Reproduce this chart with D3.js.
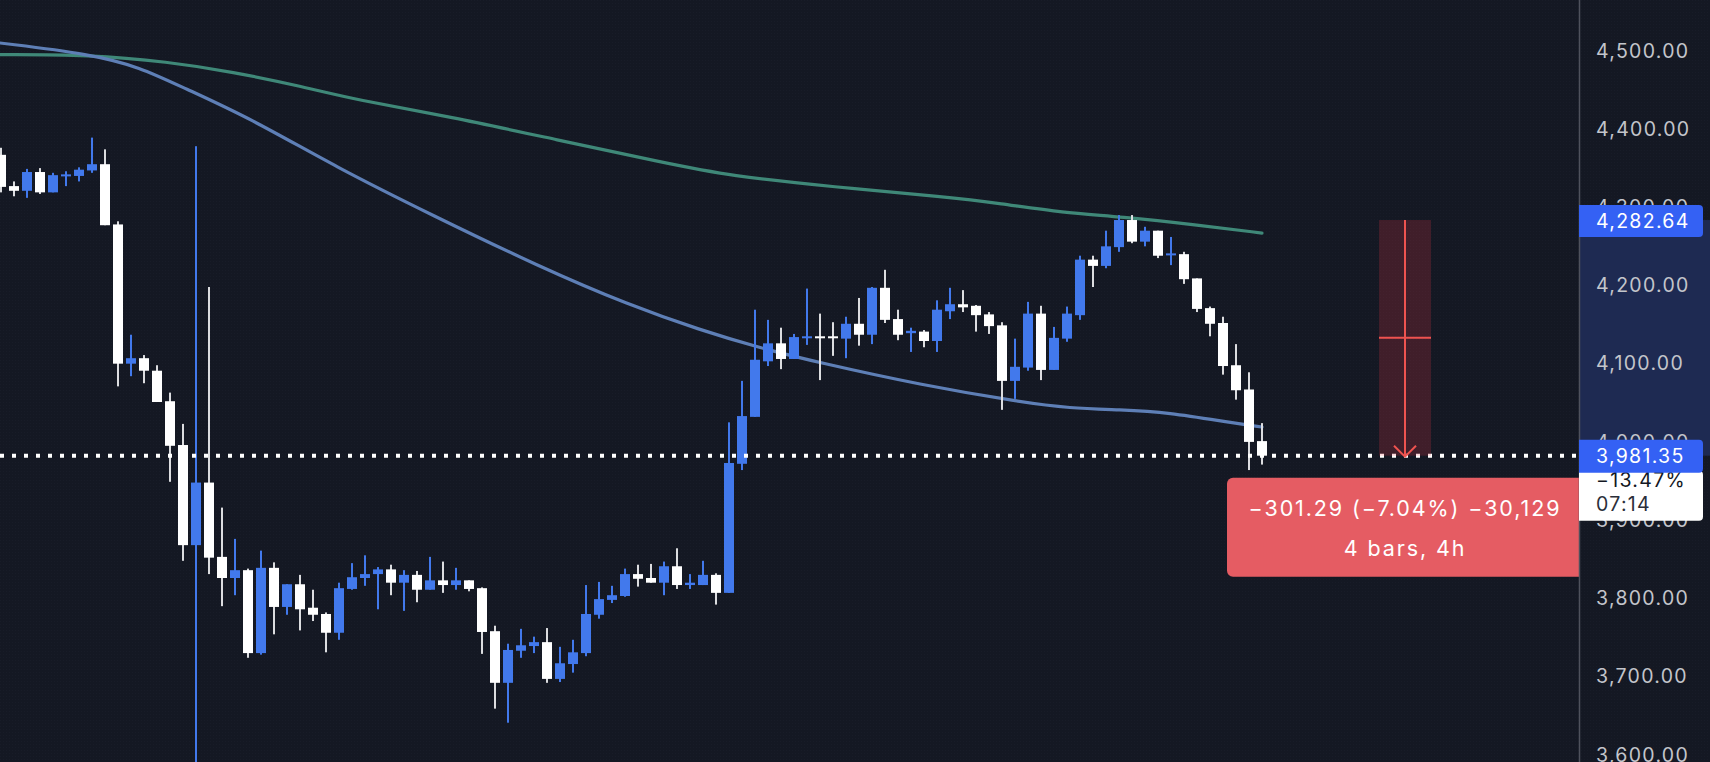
<!DOCTYPE html>
<html><head><meta charset="utf-8">
<script src="https://cdn.jsdelivr.net/npm/d3@7"></script>
<style>
html,body{margin:0;padding:0;background:#141823;overflow:hidden}
svg{display:block}
</style></head><body>
<svg id="chart" width="1710" height="762"></svg>
<script>
// ---- Data (4h candles) ----
const opens  = [4366,4326,4320,4344,4318,4339,4339,4346,4354,4277,4099,4106,4090,4051,3995,3867,3947,3852,3825,3835,3729,3838,3788,3817,3787,3779,3755,3811,3825,3830,3836,3819,3829,3810,3822,3816,3822,3812,3757,3691,3732,3738,3743,3696,3715,3729,3778,3797,3802,3830,3825,3819,3840,3816,3816,3829,3806,3971,4031,4102,4125,4105,4132,4134,4134,4131,4150,4136,4196,4156,4138,4140,4128,4166,4175,4173,4162,4148,4077,4094,4163,4091,4131,4161,4232,4224,4248,4282.64,4255,4269,4238,4239,4208,4170,4151,4097,4066,4000];
const highs  = [4375,4332,4348,4349,4343,4345,4350,4388,4373,4281,4136,4110,4097,4062,4022,4377,4197,3915,3875,3837,3860,3845,3817,3829,3810,3781,3819,3844,3854,3839,3842,3835,3834,3852,3846,3838,3822,3813,3764,3741,3760,3750,3761,3737,3746,3816,3820,3815,3837,3842,3843,3846,3863,3830,3847,3831,4024,4077,4168,4155,4145,4137,4195,4163,4152,4159,4183,4197,4219,4168,4145,4142,4180,4196,4193,4174,4165,4152,4131,4178,4173,4146,4172,4237,4237,4269,4289,4289,4274,4269,4261,4242,4208,4172,4159,4124,4088,4023];
const lows   = [4318,4313,4311,4316,4318,4326,4332,4343,4276,4070,4083,4074,4050,3948,3847,3540,3830,3789,3803,3723,3727,3753,3778,3758,3770,3730,3746,3810,3815,3785,3803,3783,3794,3810,3806,3810,3808,3728,3658,3640,3723,3729,3691,3692,3704,3725,3773,3793,3801,3814,3819,3803,3811,3811,3816,3791,3806,3963,4031,4096,4092,4105,4123,4078,4109,4106,4122,4124,4151,4129,4114,4120,4114,4156,4165,4140,4137,4040,4054,4090,4078,4091,4127,4155,4197,4221,4242,4253,4249,4234,4225,4201,4165,4134,4085,4053,3963,3970];
const closes = [4325,4320,4344,4318,4340,4341,4347,4354,4276,4099,4106,4090,4050,3994,3867,3947,3851,3825,3835,3729,3838,3788,3817,3785,3778,3755,3812,3826,3830,3836,3819,3829,3810,3822,3816,3822,3811,3756,3691,3733,3739,3743,3696,3716,3730,3779,3798,3803,3830,3824,3819,3840,3816,3819,3829,3806,3972,4032,4104,4125,4105,4133,4134,4132,4132,4150,4136,4196,4155,4136,4141,4128,4168,4175,4171,4161,4147,4077,4095,4163,4091,4132,4163,4232,4224,4249,4282.64,4255,4269,4237,4240,4207,4169,4150,4096,4065,3999,3981.35];

// moving averages, sampled at bar indices
const fastMaIdx = [-0.1,6.85,10.7,14,19.15,25.8,33.15,41.4,48.3,53.8,58.4,63,70.7,78.4,82.2,86.1,89.7,94.8,97];
const fastMaVal = [4509,4495,4478,4452,4413,4350,4289,4223,4174,4142,4119,4100,4072,4050,4042,4040,4037,4023,4018];
const slowMaIdx = [-0.1,6.85,12.8,17.85,23,27.4,34.5,42.8,51,56.1,64,72.8,76.8,81.7,86.1,92.2,97];
const slowMaVal = [4494,4494,4485,4472,4454,4436,4415,4385,4356,4339,4325,4312,4304,4292,4287,4276,4266];

const yTicks = [3600,3700,3800,3900,4000,4100,4200,4300,4400,4500];
const lastPrice = 3981.35;
const measureStart = 4282.64;
const measureBars = [106, 110];
const measureLines = ["\u2212301.29 (\u22127.04%) \u221230,129", "4 bars, 4h"];
const lastChange = "\u221213.47%";
const countdown = "07:14";

// ---- Drawing ----
const W = 1710, H = 762, plotRight = 1579;
const FONT = "Inter, 'Noto Sans', 'DejaVu Sans', sans-serif";
const UP = "#4279ec", DOWN = "#ffffff", DOWN_WICK = "#dcdde0";
const AXIS_FS = 19.5, AXIS_LS = 1.3;
const svg = d3.select("#chart");
const x = d3.scaleLinear().domain([0, 97]).range([1, 1262]);
const y = d3.scaleLinear().domain([3600, 4500]).range([754, 50]);

svg.append("rect").attr("width", W).attr("height", H).attr("fill", "#141823");
const defs = svg.append("defs");
const pat = defs.append("pattern").attr("id", "dots").attr("width", 3).attr("height", 3).attr("patternUnits", "userSpaceOnUse");
pat.append("rect").attr("width", 1).attr("height", 1).attr("fill", "#181c28");
svg.append("rect").attr("width", W).attr("height", H).attr("fill", "url(#dots)");
defs.append("clipPath").attr("id", "plotclip").append("rect").attr("width", plotRight).attr("height", H);

const plot = svg.append("g").attr("clip-path", "url(#plotclip)");

// moving averages
const line = d3.line().x(d => x(d[0])).y(d => y(d[1])).curve(d3.curveBasis);
plot.append("path").datum(slowMaIdx.map((d, i) => [d, slowMaVal[i]]))
  .attr("d", line).attr("fill", "none").attr("stroke", "#3f8878").attr("stroke-width", 3.2).attr("stroke-linecap", "round");
plot.append("path").datum(fastMaIdx.map((d, i) => [d, fastMaVal[i]]))
  .attr("d", line).attr("fill", "none").attr("stroke", "#5e7fb6").attr("stroke-width", 3.2).attr("stroke-linecap", "round");

// candles
const candles = opens.map((o, i) => ({ i, o, h: highs[i], l: lows[i], c: closes[i] }));
const cg = plot.append("g");
cg.selectAll("rect.wick").data(candles).join("rect").attr("class", "wick")
  .attr("x", d => x(d.i) - 1).attr("width", 2)
  .attr("y", d => y(d.h)).attr("height", d => y(d.l) - y(d.h))
  .attr("fill", d => d.c >= d.o ? UP : DOWN_WICK);
cg.selectAll("rect.body").data(candles).join("rect").attr("class", "body")
  .attr("x", d => x(d.i) - 5).attr("width", 10)
  .attr("y", d => y(Math.max(d.o, d.c)))
  .attr("height", d => Math.max(2, Math.abs(y(d.o) - y(d.c))))
  .attr("fill", d => d.c >= d.o ? UP : DOWN);

// last price dotted line
plot.append("line").attr("x1", 0).attr("x2", plotRight)
  .attr("y1", y(lastPrice)).attr("y2", y(lastPrice))
  .attr("stroke", "#ffffff").attr("stroke-width", 4).attr("stroke-dasharray", "4,8");

// measurement tool
const mx0 = x(measureBars[0]), mx1 = x(measureBars[1]), mxc = (mx0 + mx1) / 2;
const my0 = y(measureStart), my1 = y(lastPrice);
const RED = "#ef5350";
plot.append("rect").attr("x", mx0).attr("y", my0).attr("width", mx1 - mx0).attr("height", my1 - my0)
  .attr("fill", "rgba(242,54,69,0.2)");
plot.append("line").attr("x1", mx0).attr("x2", mx1).attr("y1", (my0 + my1) / 2).attr("y2", (my0 + my1) / 2)
  .attr("stroke", RED).attr("stroke-width", 2);
plot.append("line").attr("x1", mxc).attr("x2", mxc).attr("y1", my0).attr("y2", my1 + 1)
  .attr("stroke", RED).attr("stroke-width", 2);
plot.append("path").attr("d", `M${mxc - 11},${my1 - 10}L${mxc},${my1 + 1}L${mxc + 11},${my1 - 10}`)
  .attr("fill", "none").attr("stroke", RED).attr("stroke-width", 2);
const lbl = plot.append("g");
lbl.append("rect").attr("x", mxc - 178).attr("y", my1 + 22).attr("width", 360).attr("height", 99).attr("rx", 6)
  .attr("fill", "#e55c63");
lbl.selectAll("text").data(measureLines).join("text")
  .attr("x", mxc).attr("y", (d, i) => my1 + 60 + i * 40)
  .attr("text-anchor", "middle").attr("fill", "#ffffff")
  .attr("font-family", FONT).attr("font-size", 21.5).attr("letter-spacing", 1.9).text(d => d);

// price axis
svg.append("rect").attr("x", plotRight + 1).attr("y", my0).attr("width", W - plotRight).attr("height", my1 - my0)
  .attr("fill", "#1e2a52");
svg.append("line").attr("x1", plotRight + 0.5).attr("x2", plotRight + 0.5).attr("y1", 0).attr("y2", H)
  .attr("stroke", "#4e515c").attr("stroke-width", 1.5);
const axis = d3.axisRight(y).tickValues(yTicks).tickSize(0).tickPadding(0).tickFormat(d3.format(",.2f"));
const ag = svg.append("g").attr("transform", `translate(1596,0)`).call(axis);
ag.select(".domain").remove();
ag.selectAll("text").attr("fill", "#c3c5cb").attr("font-family", FONT).attr("font-size", AXIS_FS)
  .attr("letter-spacing", AXIS_LS).attr("x", 0).attr("dy", "0.36em").attr("text-anchor", "start");

function labelBox(yTop, h, fill) {
  const x0 = plotRight, x1 = 1703, r = 4;
  return svg.append("path").attr("d",
    `M${x0},${yTop}H${x1 - r}Q${x1},${yTop} ${x1},${yTop + r}V${yTop + h - r}Q${x1},${yTop + h} ${x1 - r},${yTop + h}H${x0}Z`)
    .attr("fill", fill);
}
function axisText(yy, txt, fill, dy) {
  return svg.append("text").attr("x", 1596).attr("y", yy).attr("dy", dy || null)
    .attr("fill", fill).attr("font-family", FONT).attr("font-size", AXIS_FS)
    .attr("letter-spacing", AXIS_LS).text(txt);
}
const fmt = d3.format(",.2f");
// high label
labelBox(y(measureStart) - 15, 32, "#3461f4");
axisText(y(measureStart) + 1, fmt(measureStart), "#ffffff", "0.36em");
// last price label with change / countdown
labelBox(y(lastPrice) + 15, 50, "#ffffff");
axisText(y(lastPrice) + 31, lastChange, "#131722");
axisText(y(lastPrice) + 55, countdown, "#2a2e39");
labelBox(y(lastPrice) - 16, 33, "#3461f4");
axisText(y(lastPrice), fmt(lastPrice), "#ffffff", "0.36em");
</script>
</body></html>
